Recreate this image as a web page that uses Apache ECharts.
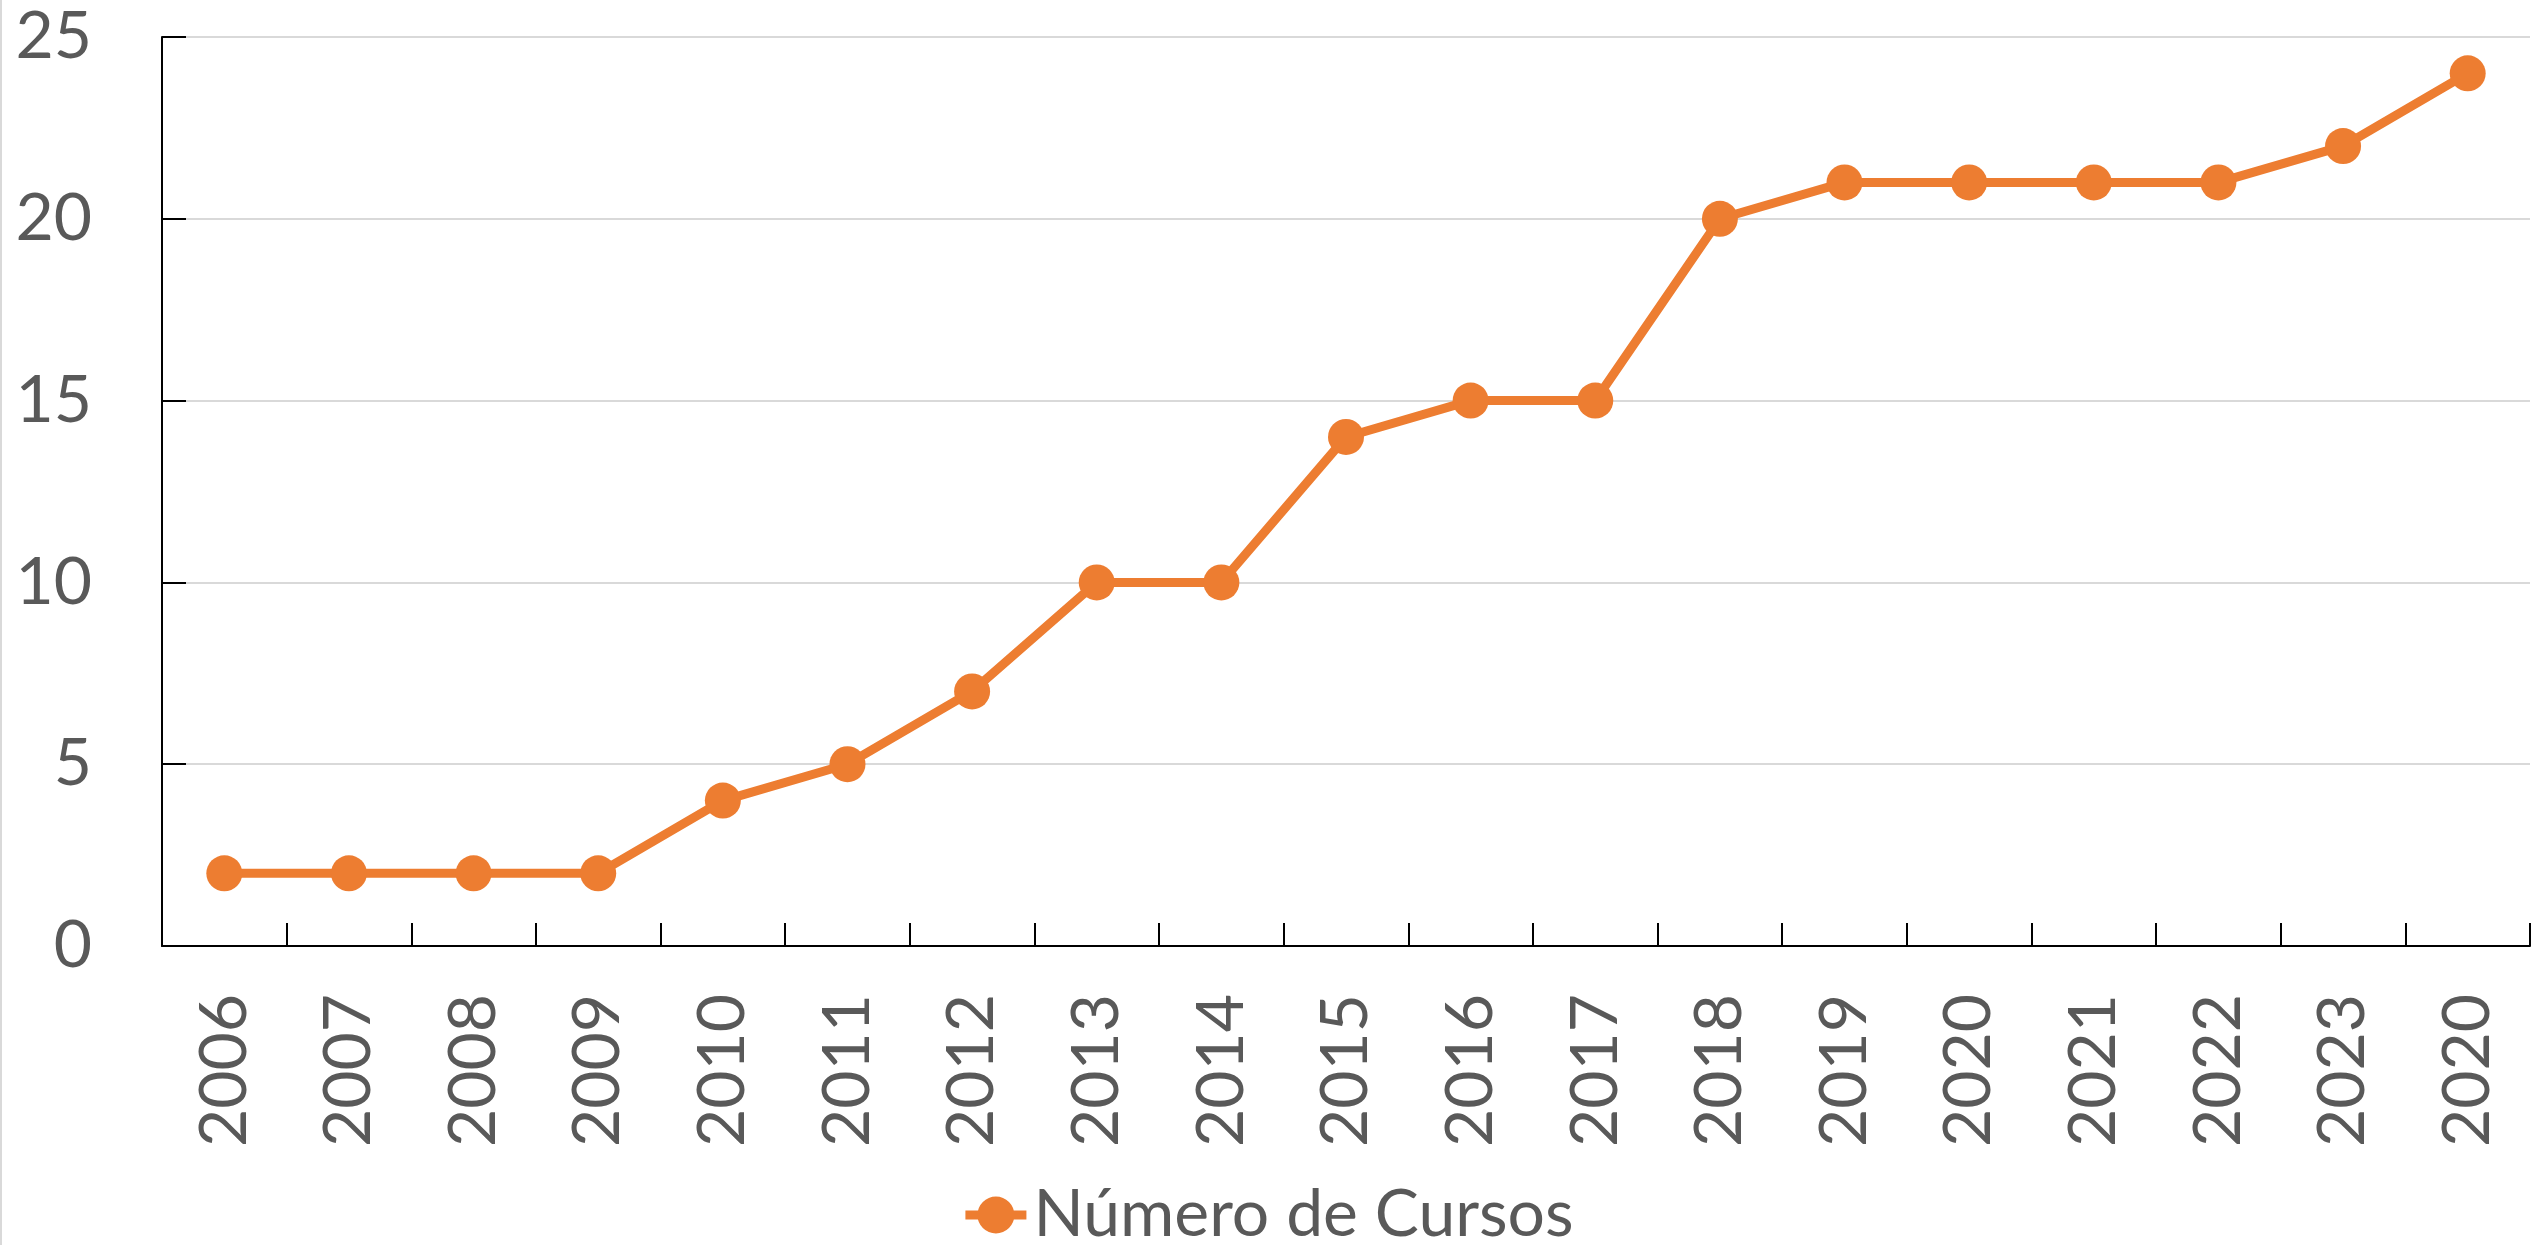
<!DOCTYPE html>
<html>
<head>
<meta charset="utf-8">
<script src="https://cdn.jsdelivr.net/npm/echarts@6/dist/echarts.min.js"></script>
<style>
html,body{margin:0;padding:0;background:#fff;}
#chart{width:2539px;height:1245px;}
</style>
</head>
<body>
<div id="chart"></div>
<script>
const categories = ['2006','2007','2008','2009','2010','2011','2012','2013','2014','2015','2016','2017','2018','2019','2020','2021','2022','2023','2020'];
const seriesName = 'Número de Cursos';
const cursos = [2,2,2,2,4,5,7,10,10,14,15,15,20,21,21,21,21,22,24];
const yTicks = {min: 0, max: 25, interval: 5};

const FONT = 'Lato, "Open Sans", sans-serif';
const TEXT = '#595959';
const ORANGE = '#ED7D31';
const LEGEND_ICON = 'path://M0,14 L61,14 L61,23 L0,23 Z M49,18.5 A18.5,18.5 0 1,1 12,18.5 A18.5,18.5 0 1,1 49,18.5 Z';

const chart = echarts.init(document.getElementById('chart'));
chart.setOption({
  animation: false,
  backgroundColor: '#ffffff',
  graphic: [{
    type: 'line',
    shape: {x1: 1, y1: 0, x2: 1, y2: 1245},
    style: {stroke: '#D9D9D9', lineWidth: 2}
  }],
  grid: {left: 162, right: 9, top: 37, bottom: 299, containLabel: false},
  legend: {
    data: [{name: seriesName, icon: LEGEND_ICON}],
    top: 1177,
    left: 'center',
    itemWidth: 61,
    itemHeight: 37,
    itemGap: 10,
    textStyle: {fontFamily: FONT, fontSize: 66, color: TEXT, padding: [0, 0, 0, 2]}
  },
  xAxis: {
    type: 'category',
    data: categories,
    boundaryGap: true,
    axisLine: {show: true, lineStyle: {color: '#000', width: 2}},
    axisTick: {show: true, inside: true, length: 23, alignWithLabel: false, lineStyle: {color: '#000', width: 2}},
    axisLabel: {
      rotate: 90, margin: 48, interval: 0,
      fontFamily: FONT, fontSize: 66, color: TEXT
    },
    splitLine: {show: false}
  },
  yAxis: {
    type: 'value',
    min: yTicks.min, max: yTicks.max, interval: yTicks.interval,
    axisLine: {show: true, lineStyle: {color: '#000', width: 2}},
    axisTick: {show: true, inside: true, length: 24, lineStyle: {color: '#000', width: 2}},
    axisLabel: {margin: 70, fontFamily: FONT, fontSize: 66, color: TEXT},
    splitLine: {show: true, lineStyle: {color: '#D9D9D9', width: 2}}
  },
  series: [{
    name: seriesName,
    type: 'line',
    data: cursos,
    symbol: 'circle',
    symbolSize: 36,
    itemStyle: {color: ORANGE},
    lineStyle: {color: ORANGE, width: 9},
    z: 5
  }]
});
</script>
</body>
</html>
